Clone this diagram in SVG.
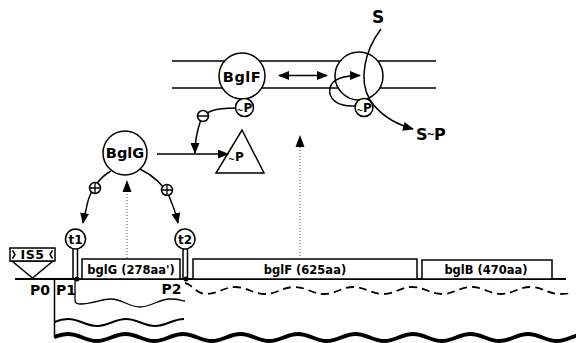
<svg xmlns="http://www.w3.org/2000/svg" width="576" height="343" viewBox="0 0 576 343">
  <style>
    .ln { fill: none; stroke: #000; stroke-width: 1.5; }
    .nd { fill: #fff; stroke: #000; stroke-width: 1.5; }
    .tx { font-family: "DejaVu Sans", "Liberation Sans", sans-serif; font-weight: bold; fill: #000; }
    .sm { font-size: 8px; }
    .dot { fill: none; stroke: #555; stroke-width: 1; stroke-dasharray: 1 2; }
    .arr { fill: none; stroke: #000; stroke-width: 1.5; marker-end: url(#head); }
  </style>
  <defs>
    <marker id="head" markerUnits="userSpaceOnUse" markerWidth="11" markerHeight="9" refX="10" refY="4.5" orient="auto">
      <path d="M0,0 L11,4.5 L0,9 z" fill="#000"/>
    </marker>
    <marker id="headStart" markerUnits="userSpaceOnUse" markerWidth="11" markerHeight="9" refX="1" refY="4.5" orient="auto">
      <path d="M11,0 L0,4.5 L11,9 z" fill="#000"/>
    </marker>
  </defs>

  <!-- membrane -->
  <g id="membrane">
    <line class="ln" x1="172" y1="61" x2="436" y2="61"/>
    <line class="ln" x1="172" y1="88" x2="436" y2="88"/>
  </g>

  <!-- BglF in the membrane, with its phosphate site -->
  <g id="bglF">
    <circle class="nd" cx="242" cy="76" r="23"/>
    <text class="tx" x="242" y="81.5" font-size="14.5" text-anchor="middle" letter-spacing="0.5">BglF</text>
    <circle class="nd" cx="244.5" cy="107.5" r="9"/>
    <text class="tx" x="244.5" y="112" font-size="12" text-anchor="middle"><tspan class="sm" dy="1">~</tspan><tspan dy="-1">P</tspan></text>
  </g>

  <!-- second BglF unit (transport channel) -->
  <g id="bglF-channel">
    <circle class="nd" cx="359" cy="76" r="24"/>
    <circle class="nd" cx="364" cy="107.5" r="9"/>
    <text class="tx" x="364" y="112" font-size="12" text-anchor="middle"><tspan class="sm" dy="1">~</tspan><tspan dy="-1">P</tspan></text>
  </g>

  <!-- sugar labels -->
  <g id="sugar">
    <text class="tx" x="378" y="23" font-size="17" text-anchor="middle">S</text>
    <text class="tx" x="416" y="140" font-size="16">S<tspan font-size="10" dx="-1" dy="-2">~</tspan><tspan dx="-1" dy="2">P</tspan></text>
  </g>

  <!-- BglG -->
  <g id="bglG">
    <circle class="nd" cx="125" cy="153" r="22"/>
    <text class="tx" x="125" y="158" font-size="14.5" text-anchor="middle">BglG</text>
  </g>

  <!-- phosphorylated BglG -->
  <g id="bglG-P">
    <polygon class="nd" points="242,130 264,173 216,173"/>
    <text class="tx" x="236" y="161" font-size="12" text-anchor="middle"><tspan class="sm" dy="1">~</tspan><tspan dy="-1">P</tspan></text>
  </g>

  <!-- DNA baseline -->
  <g id="dna">
    <line x1="15" y1="279" x2="566" y2="279" stroke="#000" stroke-width="2.2"/>
    <circle cx="77" cy="279" r="2.5" fill="#000"/>
    <circle cx="186" cy="279" r="2.5" fill="#000"/>
  </g>

  <!-- IS5 insertion -->
  <g id="is5">
    <polygon class="nd" points="12,261 53,261 32.5,278"/>
    <rect class="nd" x="10" y="248" width="45" height="13"/>
    <path class="ln" d="M12.5,250.5 L15,254.5 L12.5,258.5 M52.5,250.5 L50,254.5 L52.5,258.5" stroke-width="1.2"/>
    <text class="tx" x="32.5" y="259" font-size="12.5" text-anchor="middle" letter-spacing="0.5">IS5</text>
  </g>

  <!-- genes -->
  <g id="gene-bglG">
    <rect class="nd" x="82" y="259" width="98" height="20"/>
    <text class="tx" x="131" y="273.5" font-size="11.5" text-anchor="middle">bglG (278aa')</text>
  </g>
  <g id="gene-bglF">
    <rect class="nd" x="193" y="259" width="224" height="20"/>
    <text class="tx" x="305" y="273.5" font-size="11.5" text-anchor="middle">bglF (625aa)</text>
  </g>
  <g id="gene-bglB">
    <rect class="nd" x="422" y="260" width="130" height="19"/>
    <text class="tx" x="486" y="273.5" font-size="11.5" text-anchor="middle">bglB (470aa)</text>
  </g>

  <!-- terminators -->
  <g id="t1">
    <line class="ln" x1="73" y1="248" x2="73" y2="279" stroke-width="1.2"/>
    <line class="ln" x1="77.5" y1="248" x2="77.5" y2="279" stroke-width="1.2"/>
    <circle class="nd" cx="75.5" cy="239" r="10"/>
    <text class="tx" x="75.5" y="243.5" font-size="12" text-anchor="middle">t1</text>
  </g>
  <g id="t2">
    <line class="ln" x1="183" y1="248" x2="183" y2="279" stroke-width="1.2"/>
    <line class="ln" x1="187.5" y1="248" x2="187.5" y2="279" stroke-width="1.2"/>
    <circle class="nd" cx="185" cy="239" r="10"/>
    <text class="tx" x="185" y="243.5" font-size="12" text-anchor="middle">t2</text>
  </g>

  <!-- promoters -->
  <g id="promoters">
    <text class="tx" x="40" y="295" font-size="14" text-anchor="middle">P0</text>
    <text class="tx" x="66" y="295" font-size="14" text-anchor="middle">P1</text>
    <text class="tx" x="171.5" y="294" font-size="14" text-anchor="middle">P2</text>
  </g>

  <!-- transcripts -->
  <g id="transcripts" fill="none" stroke="#000">
    <path stroke-width="1.3" d="M75,280 V300 Q75,304 80,304 C95,304 100,299 111,299 S129,307 140,307 S159,299 170,299 S181,301 185,301"/>
    <path stroke-width="1.8" stroke-dasharray="8 5" d="M185,283 C192,284 196,294 206,294 C217.8,294 223.7,287 235.5,287 S253.2,294 265,294 S282.7,287 294.5,287 S312.2,294 324,294 S341.7,287 353.5,287 S371.2,294 383,294 S400.7,287 412.5,287 S430.2,294 442,294 S459.7,287 471.5,287 S489.2,294 501,294 S518.7,287 530.5,287 S548.2,294 560,294 S566,293 570,291.5"/>
    <line x1="54.5" y1="279" x2="54.5" y2="338" stroke-width="1.5"/>
    <path stroke-width="2" d="M54.5,322 C59,320 62,319 68,319 C79.6,319 85.4,326 97,326 S114.4,319 126,319 S143.4,326 155,326 S172.4,319 184,319"/>
    <path stroke-width="4" d="M54.5,337 C60,335 63,334 68,334 C79.5,334 85.25,341 96.75,341 S114,334 125.5,334 S142.75,341 154.25,341 S171.5,334 183,334 S200.25,341 211.75,341 S229,334 240.5,334 S257.75,341 269.25,341 S286.5,334 298,334 S315.25,341 326.75,341 S344,334 355.5,334 S372.75,341 384.25,341 S401.5,334 413,334 S430.25,341 441.75,341 S459,334 470.5,334 S487.75,341 499.25,341 S516.5,334 528,334 S545.25,341 556.75,341 S574,334 585.5,334"/>
  </g>

  <!-- regulatory connectors -->
  <g id="connectors">
    <!-- exchange between the two BglF units -->
    <line x1="279" y1="75.5" x2="327" y2="75.5" stroke="#000" stroke-width="1.5" marker-start="url(#headStart)" marker-end="url(#head)"/>
    <!-- phosphoryl relay inside the channel -->
    <path class="arr" d="M355.5,106 C336,107 328,98 330,88 C332,79 342,75.5 360,75.5"/>
    <!-- sugar uptake and phosphorylation -->
    <path class="arr" d="M381,29 C365,50 358,80 370,100 C380,115 395,124 413,129"/>
    <!-- BglF~P inactivates BglG -->
    <path class="arr" d="M235.5,108 C216,108 204,111 200.5,121 C197,131 195,140 195,153"/>
    <circle class="nd" cx="203" cy="116" r="5.5" stroke-width="1.3"/>
    <line x1="198" y1="116" x2="208" y2="116" stroke="#000" stroke-width="1.5"/>
    <!-- BglG to BglG~P -->
    <line class="arr" x1="157" y1="154" x2="228" y2="154"/>
    <!-- BglG acts on t1 and t2 -->
    <path class="arr" d="M111,171 C100,177 90,190 87,205 C86,211 84,217 83,223"/>
    <circle class="nd" cx="95" cy="188" r="5.5" stroke-width="1.3"/>
    <path d="M89.5,188 H100.5 M95,182.5 V193.5" stroke="#000" stroke-width="1.3"/>
    <path class="arr" d="M140,169 C152,175 163,184 169,196 C173,205 176,214 178,223"/>
    <circle class="nd" cx="167" cy="190" r="5.5" stroke-width="1.3"/>
    <path d="M161.5,190 H172.5 M167,184.5 V195.5" stroke="#000" stroke-width="1.3"/>
    <!-- translation products -->
    <line class="dot" x1="127" y1="258" x2="127" y2="192"/>
    <path d="M127,180 L122.5,192 L131.5,192 z" fill="#000"/>
    <line class="dot" x1="300" y1="256" x2="300" y2="147"/>
    <path d="M300,135 L295.5,147 L304.5,147 z" fill="#000"/>
  </g>
</svg>
